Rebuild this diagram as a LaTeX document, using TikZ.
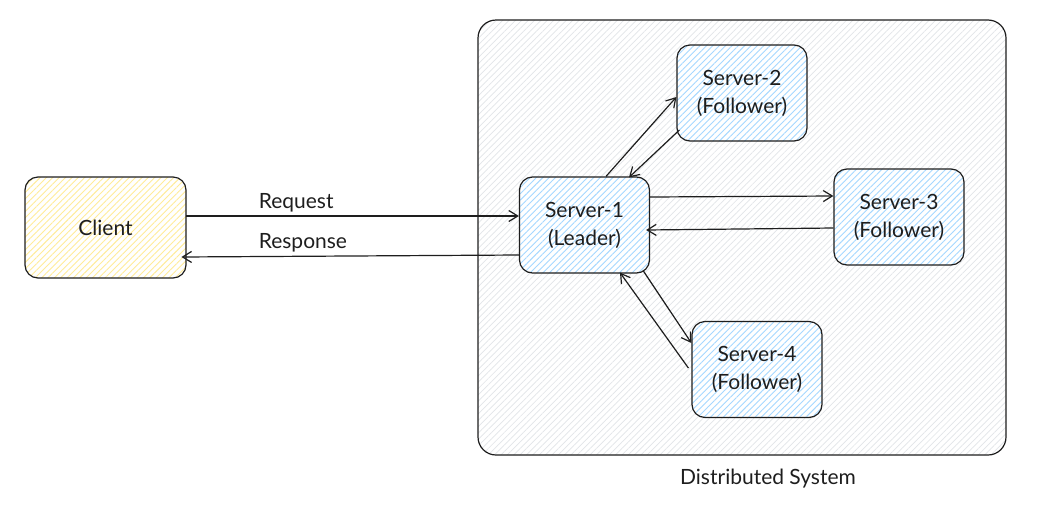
\documentclass[tikz,border=0pt]{standalone}
\usepackage{fontspec}
\setmainfont{Lato}
\usetikzlibrary{arrows.meta,patterns.meta}
\definecolor{hblue}{HTML}{A5D8FF}
\definecolor{hyellow}{HTML}{FFEC99}
\definecolor{hgray}{HTML}{E2E5E8}
\definecolor{ink}{HTML}{1E1E1E}
\tikzset{
  box/.style={draw=ink, line width=1.2pt, rounded corners=13pt, align=center,
    font=\fontsize{21}{28}\selectfont, text=ink,
    preaction={fill=white},
    pattern={Lines[angle=45,distance=4.5pt,line width=0.9pt]}},
  server/.style={box, pattern color=hblue, minimum width=130pt, minimum height=96pt},
  clientbox/.style={box, pattern color=hyellow, minimum width=161pt, minimum height=101pt},
  sysbox/.style={draw=ink, line width=1.2pt, rounded corners=18pt,
    preaction={fill=white},
    pattern={Lines[angle=45,distance=4.5pt,line width=0.7pt]}, pattern color=hgray,
    minimum width=528pt, minimum height=435pt},
  arr/.style={draw=ink, line width=1.2pt, -{Straight Barb[length=9pt,width=11pt,line width=1.2pt]}},
  lbl/.style={font=\fontsize{21}{25}\selectfont, text=ink}
}
\begin{document}
\begin{tikzpicture}[x=1pt,y=-1pt]
\useasboundingbox (0,0) rectangle (1050,504);
\node[sysbox] (sys) at (742,237.5) {};
\node[lbl] (syslbl) at (768,479) {Distributed System};
\node[clientbox] (client) at (105.5,227.5) {Client};
\node[server] (s1) at (584.5,225) {Server-1\\(Leader)};
\node[server] (s2) at (742,93) {Server-2\\(Follower)};
\node[server] (s3) at (899,217) {Server-3\\(Follower)};
\node[server] (s4) at (757,369.5) {Server-4\\(Follower)};
% client <-> server-1
\draw[arr] ([yshift=11.5pt]client.east) -- ([yshift=9pt]s1.west)
  node[lbl, pos=0.33, above=0pt] (req) {Request};
\draw[arr] ([yshift=-30pt]s1.west) -- ([xshift=-5pt,yshift=-29.5pt]client.east)
  node[lbl, pos=0.64, above=0pt] (resp) {Response};
% server-1 <-> server-2
\draw[arr] ([xshift=21.5pt]s1.north) -- ([yshift=-4pt]s2.west);
\draw[arr] ([xshift=3pt,yshift=-37pt]s2.west) -- ([xshift=44.5pt,yshift=-1pt]s1.north);
% server-1 <-> server-3
\draw[arr] ([yshift=28pt]s1.east) -- ([yshift=21pt]s3.west);
\draw[arr] ([yshift=-11pt]s3.west) -- ([xshift=-4pt,yshift=-5pt]s1.east);
% server-1 <-> server-4
\draw[arr] ([xshift=-7pt,yshift=3pt]s1.south east) -- ([yshift=26.5pt]s4.west);
\draw[arr] ([xshift=-3pt,yshift=1.5pt]s4.west) -- ([xshift=35.5pt,yshift=1pt]s1.south);
\end{tikzpicture}
\end{document}
